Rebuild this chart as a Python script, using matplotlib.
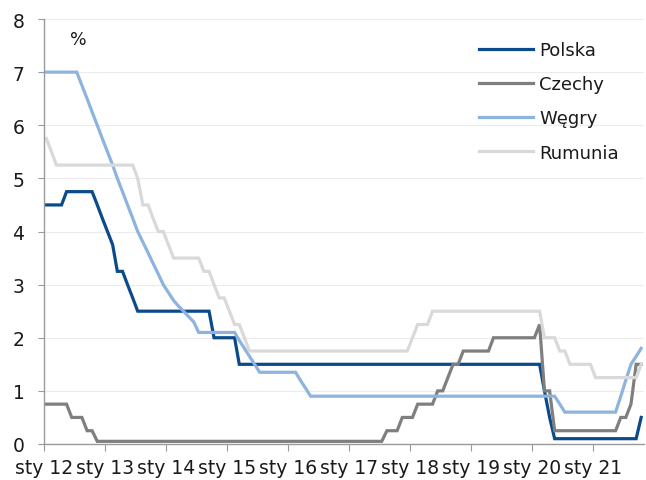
import numpy as np
import pandas as pd
import matplotlib.pyplot as plt
import matplotlib.dates as mdates

# monthly policy rates, Jan 2012 - Oct 2021 (one row per year)
polska = [4.5, 4.5, 4.5, 4.5, 4.75, 4.75, 4.75, 4.75, 4.75, 4.75, 4.5, 4.25,
          4.0, 3.75, 3.25, 3.25, 3.0, 2.75, 2.5, 2.5, 2.5, 2.5, 2.5, 2.5,
          2.5, 2.5, 2.5, 2.5, 2.5, 2.5, 2.5, 2.5, 2.5, 2.0, 2.0, 2.0,
          2.0, 2.0, 1.5, 1.5, 1.5, 1.5, 1.5, 1.5, 1.5, 1.5, 1.5, 1.5,
          1.5, 1.5, 1.5, 1.5, 1.5, 1.5, 1.5, 1.5, 1.5, 1.5, 1.5, 1.5,
          1.5, 1.5, 1.5, 1.5, 1.5, 1.5, 1.5, 1.5, 1.5, 1.5, 1.5, 1.5,
          1.5, 1.5, 1.5, 1.5, 1.5, 1.5, 1.5, 1.5, 1.5, 1.5, 1.5, 1.5,
          1.5, 1.5, 1.5, 1.5, 1.5, 1.5, 1.5, 1.5, 1.5, 1.5, 1.5, 1.5,
          1.5, 1.5, 1.0, 0.5, 0.1, 0.1, 0.1, 0.1, 0.1, 0.1, 0.1, 0.1,
          0.1, 0.1, 0.1, 0.1, 0.1, 0.1, 0.1, 0.1, 0.1, 0.5]

czechy = [0.75, 0.75, 0.75, 0.75, 0.75, 0.5, 0.5, 0.5, 0.25, 0.25, 0.05, 0.05,
          0.05, 0.05, 0.05, 0.05, 0.05, 0.05, 0.05, 0.05, 0.05, 0.05, 0.05, 0.05,
          0.05, 0.05, 0.05, 0.05, 0.05, 0.05, 0.05, 0.05, 0.05, 0.05, 0.05, 0.05,
          0.05, 0.05, 0.05, 0.05, 0.05, 0.05, 0.05, 0.05, 0.05, 0.05, 0.05, 0.05,
          0.05, 0.05, 0.05, 0.05, 0.05, 0.05, 0.05, 0.05, 0.05, 0.05, 0.05, 0.05,
          0.05, 0.05, 0.05, 0.05, 0.05, 0.05, 0.05, 0.25, 0.25, 0.25, 0.5, 0.5,
          0.5, 0.75, 0.75, 0.75, 0.75, 1.0, 1.0, 1.25, 1.5, 1.5, 1.75, 1.75,
          1.75, 1.75, 1.75, 1.75, 2.0, 2.0, 2.0, 2.0, 2.0, 2.0, 2.0, 2.0,
          2.0, 2.25, 1.0, 1.0, 0.25, 0.25, 0.25, 0.25, 0.25, 0.25, 0.25, 0.25,
          0.25, 0.25, 0.25, 0.25, 0.25, 0.5, 0.5, 0.75, 1.5, 1.5]

wegry = [7.0, 7.0, 7.0, 7.0, 7.0, 7.0, 7.0, 6.75, 6.5, 6.25, 6.0, 5.75,
         5.5, 5.25, 5.0, 4.75, 4.5, 4.25, 4.0, 3.8, 3.6, 3.4, 3.2, 3.0,
         2.85, 2.7, 2.6, 2.5, 2.4, 2.3, 2.1, 2.1, 2.1, 2.1, 2.1, 2.1,
         2.1, 2.1, 1.95, 1.8, 1.65, 1.5, 1.35, 1.35, 1.35, 1.35, 1.35, 1.35,
         1.35, 1.35, 1.2, 1.05, 0.9, 0.9, 0.9, 0.9, 0.9, 0.9, 0.9, 0.9,
         0.9, 0.9, 0.9, 0.9, 0.9, 0.9, 0.9, 0.9, 0.9, 0.9, 0.9, 0.9,
         0.9, 0.9, 0.9, 0.9, 0.9, 0.9, 0.9, 0.9, 0.9, 0.9, 0.9, 0.9,
         0.9, 0.9, 0.9, 0.9, 0.9, 0.9, 0.9, 0.9, 0.9, 0.9, 0.9, 0.9,
         0.9, 0.9, 0.9, 0.9, 0.9, 0.75, 0.6, 0.6, 0.6, 0.6, 0.6, 0.6,
         0.6, 0.6, 0.6, 0.6, 0.6, 0.9, 1.2, 1.5, 1.65, 1.8]

rumunia = [5.75, 5.5, 5.25, 5.25, 5.25, 5.25, 5.25, 5.25, 5.25, 5.25, 5.25, 5.25,
           5.25, 5.25, 5.25, 5.25, 5.25, 5.25, 5.0, 4.5, 4.5, 4.25, 4.0, 4.0,
           3.75, 3.5, 3.5, 3.5, 3.5, 3.5, 3.5, 3.25, 3.25, 3.0, 2.75, 2.75,
           2.5, 2.25, 2.25, 2.0, 1.75, 1.75, 1.75, 1.75, 1.75, 1.75, 1.75, 1.75,
           1.75, 1.75, 1.75, 1.75, 1.75, 1.75, 1.75, 1.75, 1.75, 1.75, 1.75, 1.75,
           1.75, 1.75, 1.75, 1.75, 1.75, 1.75, 1.75, 1.75, 1.75, 1.75, 1.75, 1.75,
           2.0, 2.25, 2.25, 2.25, 2.5, 2.5, 2.5, 2.5, 2.5, 2.5, 2.5, 2.5,
           2.5, 2.5, 2.5, 2.5, 2.5, 2.5, 2.5, 2.5, 2.5, 2.5, 2.5, 2.5,
           2.5, 2.5, 2.0, 2.0, 2.0, 1.75, 1.75, 1.5, 1.5, 1.5, 1.5, 1.5,
           1.25, 1.25, 1.25, 1.25, 1.25, 1.25, 1.25, 1.25, 1.25, 1.5]

series = [("Polska", polska, "#0b4a8b"),
          ("Czechy", czechy, "#7f7f7f"),
          ("Węgry", wegry, "#8db3df"),
          ("Rumunia", rumunia, "#d9d9d9")]

years = list(range(2012, 2022))
tick_labels = ["sty %02d" % (y % 100) for y in years]

# points sit mid-month, year ticks on 1 January
dates = pd.date_range("2012-01-01", periods=len(polska), freq="MS") + pd.Timedelta(days=14)

plt.rcParams['font.family'] = ['DejaVu Sans']
fig = plt.figure(figsize=(6.46, 4.81), dpi=100)
ax = fig.add_axes([44 / 646, 1 - 445 / 481, 600 / 646, 425 / 481])

for name, vals, col in series:
    ax.plot(dates, vals, color=col, lw=2.3, label=name, solid_joinstyle='miter')

ax.set_ylim(0, 8)
ax.set_yticks(range(0, 9))
ax.set_xlim(pd.Timestamp("2012-01-01"), pd.Timestamp("2021-11-01"))
ax.set_xticks([pd.Timestamp("%d-01-01" % y) for y in years])
ax.set_xticklabels(tick_labels)

ax.grid(axis='y', color='#ececec', lw=0.8)
ax.set_axisbelow(True)
for s in ['top', 'right']:
    ax.spines[s].set_visible(False)
for s in ['left', 'bottom']:
    ax.spines[s].set_color('#9a9a9a')
    ax.spines[s].set_linewidth(1.0)

ax.tick_params(axis='y', length=4, color='#9a9a9a', labelsize=13.5, pad=10, labelcolor='#1a1a1a')
ax.tick_params(axis='x', length=5, color='#9a9a9a', labelsize=13.5, pad=5, labelcolor='#1a1a1a')

ax.text(78 / 646, 1 - 40 / 481, "%", transform=fig.transFigure, fontsize=12.5,
        ha='center', va='center', color='#1a1a1a')

leg = ax.legend(loc='upper left', bbox_to_anchor=(479 / 646, 1 - 42 / 481),
                bbox_transform=fig.transFigure, frameon=False, fontsize=13,
                handlelength=3.0, handletextpad=0.35, labelspacing=0.9,
                borderaxespad=0, borderpad=0)
for t in leg.get_texts():
    t.set_color('#1a1a1a')

fig.savefig("out.png", dpi=100)
